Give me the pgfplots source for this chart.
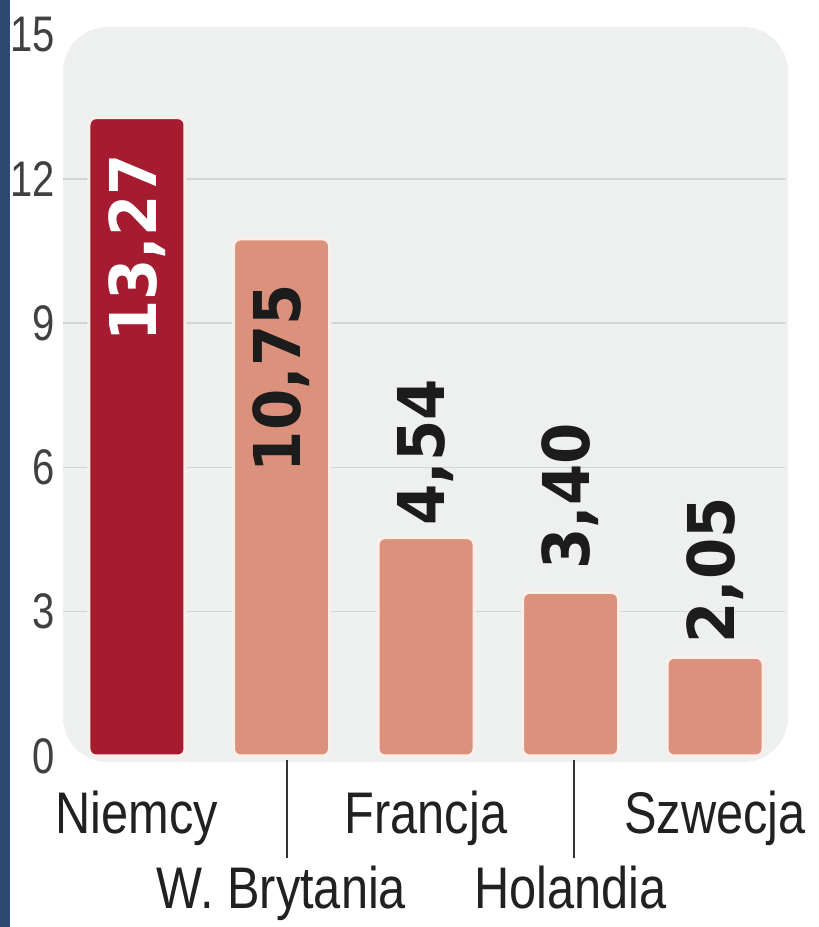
\documentclass[border=0pt]{standalone}
\usepackage{fontspec}
\usepackage{pgfplots}
\pgfplotsset{compat=1.18}
\setmainfont{Liberation Sans}
\newfontfamily\tickfont{Liberation Sans}[FakeStretch=0.8]
\newfontfamily\catfont{Liberation Sans}[FakeStretch=0.83]
\newfontfamily\valfont{DejaVu Sans}[FakeStretch=0.92]
\definecolor{darkred}{HTML}{A51C30}
\definecolor{salmon}{HTML}{DC917C}
\definecolor{panel}{HTML}{EEEFEF}
\definecolor{gridc}{HTML}{D3D5D5}
\definecolor{strip}{HTML}{2E4870}
\definecolor{barborder}{HTML}{FBEFEA}
\definecolor{valtext}{HTML}{1C1C1C}
\begin{document}
\begin{tikzpicture}
\useasboundingbox (0,0) rectangle (819bp,927bp);
\fill[white] (0,0) rectangle (819bp,927bp);
\fill[strip] (0,0) rectangle (10bp,927bp);
\fill[panel, rounded corners=45bp] (63bp,165bp) rectangle (788bp,900bp);
\begin{axis}[
  at={(63bp,171bp)}, anchor=south west,
  scale only axis, width=722bp, height=721.5bp,
  xmin=-0.512, xmax=4.484, ymin=0, ymax=15,
  axis line style={draw=none},
  major tick length=0pt,
  ytick={3,6,9,12},
  extra y ticks={0,15},
  extra y tick style={grid=none},
  ymajorgrids, grid style={gridc, line width=1.5bp},
  xtick={0,1,2,3,4},
  xticklabels={Niemcy, \raisebox{-75bp}{W. Brytania}, Francja, \raisebox{-75bp}{Holandia}, Szwecja},
  xticklabel style={anchor=base, yshift=-77bp, inner sep=0pt, font=\fontsize{58.7bp}{60bp}\catfont, text=black!87},
  yticklabel style={anchor=east, inner sep=0pt, xshift=-8bp, font=\fontsize{50bp}{50bp}\tickfont, text=black!75},
  /pgf/number format/assume math mode=true,
  clip=false,
]
\addplot[ybar, bar width=96bp, bar shift=0pt, fill=darkred, draw=barborder, line width=3bp, rounded corners=7bp,
  visualization depends on={\thisrow{off} \as \off},
  nodes near coords={\pgfmathprintnumber[fixed, fixed zerofill, precision=2, use comma]{\pgfplotspointmeta}},
  nodes near coords style={yshift=\off bp, rotate=90, anchor=east, inner sep=0pt, text=white, font=\fontsize{64.5bp}{65bp}\valfont\bfseries}]
  table[row sep=\\] {x y off\\ 0 13.27 -35\\};
\addplot[ybar, bar width=96bp, bar shift=0pt, fill=salmon, draw=barborder, line width=3bp, rounded corners=7bp,
  visualization depends on={\thisrow{off} \as \off},
  nodes near coords={\pgfmathprintnumber[fixed, fixed zerofill, precision=2, use comma]{\pgfplotspointmeta}},
  nodes near coords style={yshift=\off bp, rotate=90, anchor=east, inner sep=0pt, text=valtext, font=\fontsize{64.5bp}{65bp}\valfont\bfseries}]
  table[row sep=\\] {x y off\\ 1 10.75 -44\\ 2 4.54 160\\ 3 3.40 171\\ 4 2.05 162\\};
\draw[black!80, line width=2bp] ([xshift=5bp, yshift=-4bp]axis cs:1,0) -- ([xshift=5bp, yshift=-102bp]axis cs:1,0);
\draw[black!80, line width=2bp] ([xshift=3bp, yshift=-4bp]axis cs:3,0) -- ([xshift=3bp, yshift=-102bp]axis cs:3,0);
\end{axis}
\end{tikzpicture}
\end{document}
